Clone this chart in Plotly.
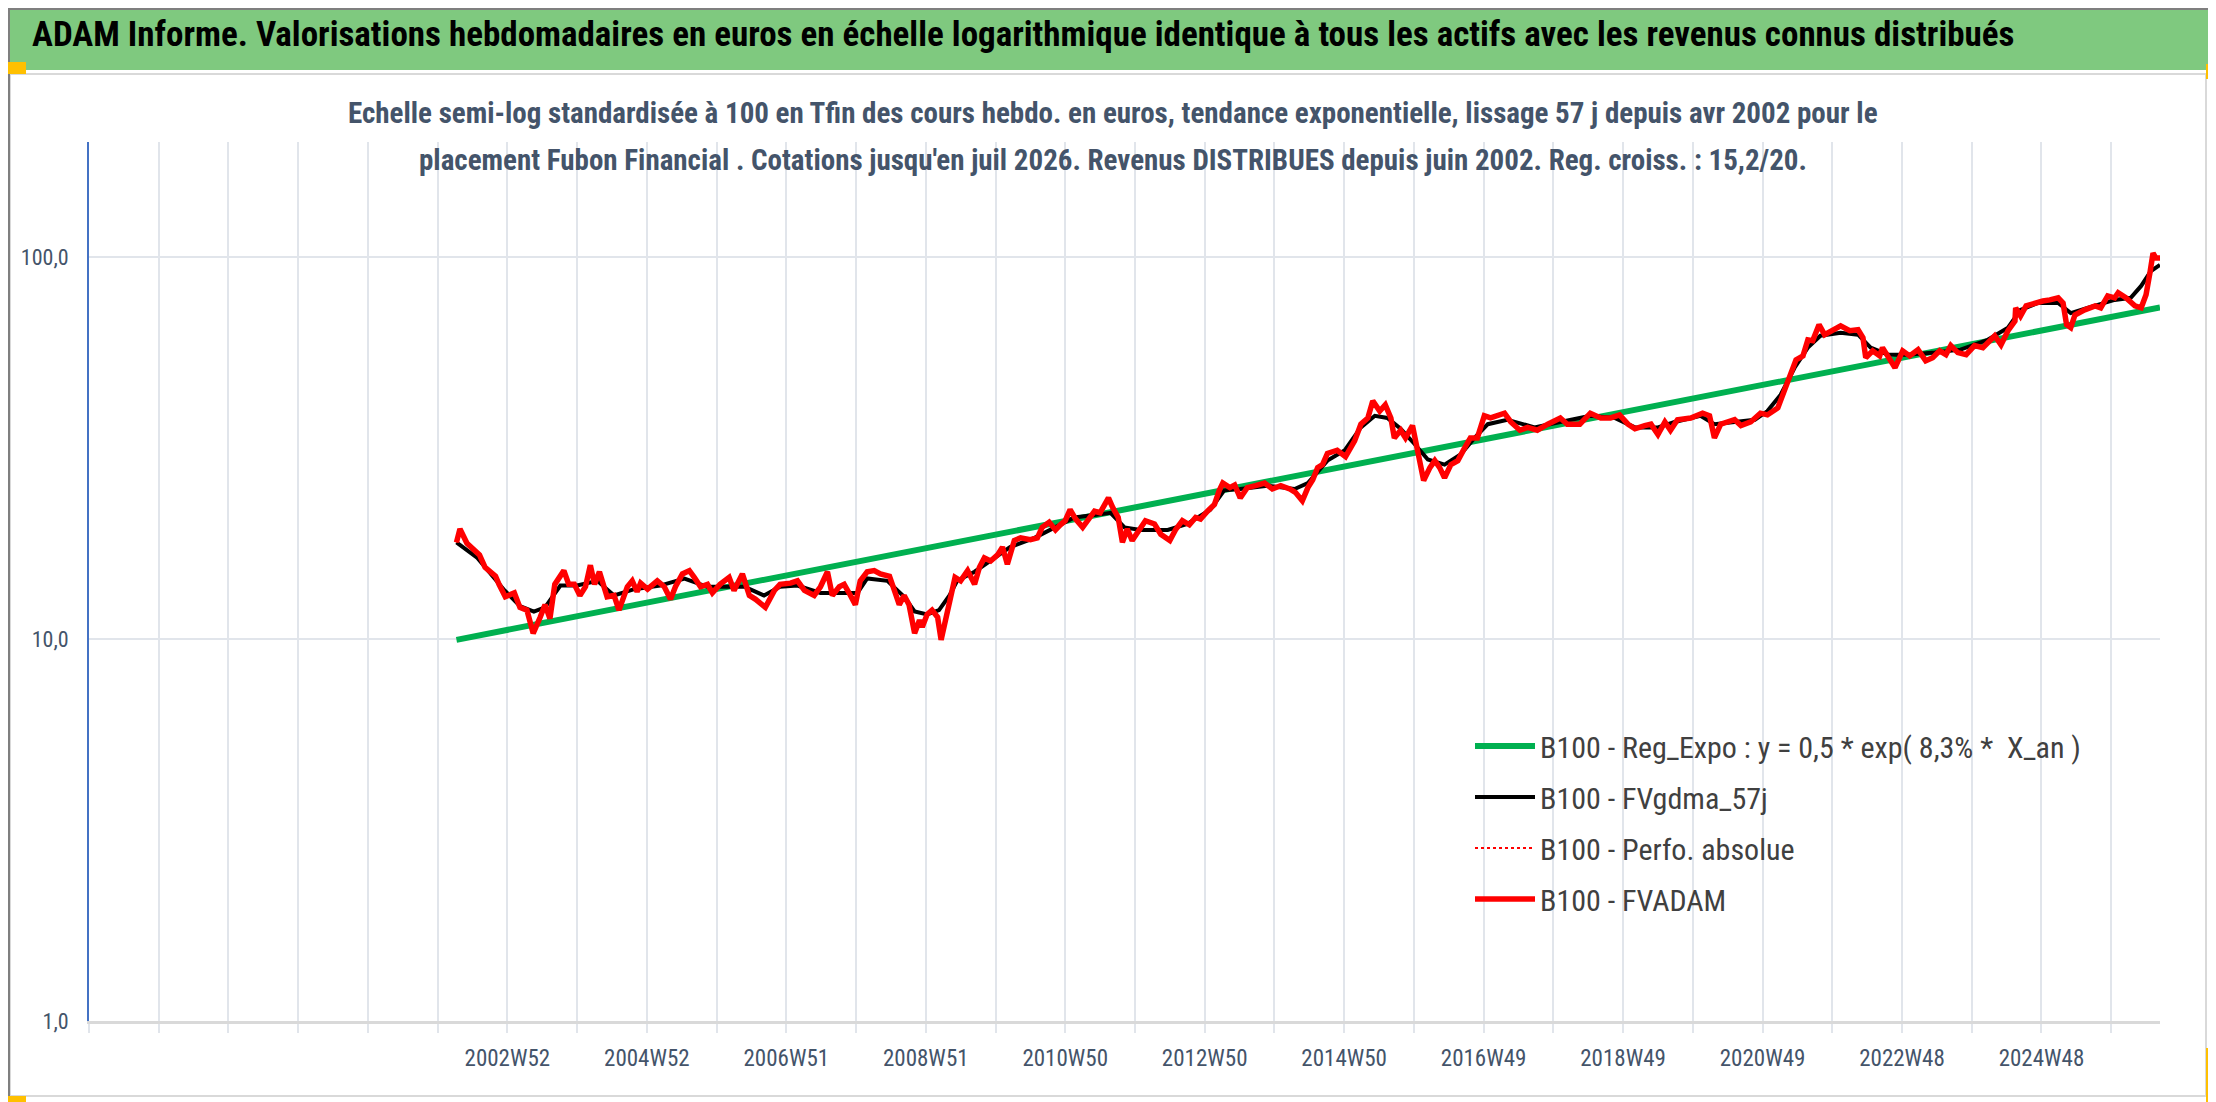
import plotly.graph_objects as go

# axe x : annees "hebdo" (1 unite = 52 semaines, 2003.0 = 2002W52)
adam_x = [2002.27, 2002.32, 2002.42, 2002.60, 2002.68, 2002.83, 2002.88, 2002.97, 2003.10, 2003.18,
          2003.28, 2003.37, 2003.47, 2003.54, 2003.61, 2003.68, 2003.81, 2003.88, 2003.96, 2004.04,
          2004.12, 2004.19, 2004.25, 2004.32, 2004.43, 2004.53, 2004.60, 2004.72, 2004.79, 2004.86,
          2004.91, 2005.01, 2005.15, 2005.25, 2005.34, 2005.41, 2005.51, 2005.61, 2005.68, 2005.77,
          2005.87, 2005.94, 2006.05, 2006.18, 2006.25, 2006.37, 2006.47, 2006.56, 2006.70, 2006.83,
          2006.91, 2007.06, 2007.16, 2007.26, 2007.40, 2007.49, 2007.59, 2007.66, 2007.76, 2007.83,
          2007.92, 2007.99, 2008.06, 2008.16, 2008.26, 2008.35, 2008.48, 2008.55, 2008.62, 2008.69,
          2008.76, 2008.84, 2008.91, 2008.95, 2009.02, 2009.09, 2009.17, 2009.22, 2009.28, 2009.35,
          2009.42, 2009.50, 2009.60, 2009.70, 2009.77, 2009.84, 2009.93, 2010.03, 2010.10, 2010.17,
          2010.27, 2010.36, 2010.50, 2010.60, 2010.67, 2010.77, 2010.86, 2010.93, 2011.00, 2011.07,
          2011.15, 2011.25, 2011.35, 2011.42, 2011.50, 2011.62, 2011.68, 2011.76, 2011.82, 2011.89,
          2011.96, 2012.06, 2012.15, 2012.28, 2012.37, 2012.50, 2012.58, 2012.68, 2012.78, 2012.87,
          2012.94, 2013.04, 2013.14, 2013.21, 2013.26, 2013.36, 2013.43, 2013.51, 2013.61, 2013.73,
          2013.86, 2013.97, 2014.09, 2014.22, 2014.30, 2014.40, 2014.48, 2014.55, 2014.62, 2014.69,
          2014.76, 2014.90, 2015.02, 2015.15, 2015.24, 2015.34, 2015.41, 2015.51, 2015.59, 2015.67,
          2015.72, 2015.81, 2015.88, 2015.98, 2016.05, 2016.14, 2016.23, 2016.30, 2016.37, 2016.44,
          2016.53, 2016.63, 2016.73, 2016.81, 2016.91, 2017.01, 2017.10, 2017.20, 2017.30, 2017.39,
          2017.52, 2017.63, 2017.77, 2017.92, 2018.10, 2018.20, 2018.38, 2018.53, 2018.68, 2018.82,
          2018.95, 2019.07, 2019.17, 2019.31, 2019.40, 2019.50, 2019.60, 2019.68, 2019.78, 2019.97,
          2020.14, 2020.24, 2020.31, 2020.40, 2020.60, 2020.69, 2020.83, 2020.97, 2021.07, 2021.22,
          2021.32, 2021.40, 2021.48, 2021.58, 2021.65, 2021.72, 2021.81, 2021.89, 2022.01, 2022.12,
          2022.25, 2022.37, 2022.44, 2022.48, 2022.58, 2022.68, 2022.72, 2022.80, 2022.90, 2023.01,
          2023.11, 2023.23, 2023.34, 2023.44, 2023.54, 2023.63, 2023.70, 2023.80, 2023.92, 2024.04,
          2024.16, 2024.33, 2024.42, 2024.52, 2024.62, 2024.63, 2024.70, 2024.78, 2024.91, 2025.02,
          2025.12, 2025.24, 2025.31, 2025.36, 2025.42, 2025.48, 2025.62, 2025.77, 2025.85, 2025.95,
          2026.05, 2026.10, 2026.21, 2026.34, 2026.43, 2026.50, 2026.56, 2026.60, 2026.64, 2026.70]
adam_y = [17.9, 19.4, 17.8, 16.6, 15.4, 14.6, 13.9, 12.9, 13.2, 12.1,
          11.9, 10.35, 11.4, 12.3, 11.3, 13.9, 15.1, 13.9, 13.9, 13.0,
          13.7, 15.6, 13.9, 15.0, 12.9, 13.0, 11.9, 13.7, 14.2, 13.3,
          14.0, 13.5, 14.2, 13.7, 12.7, 13.7, 14.8, 15.1, 14.5, 13.7,
          13.9, 13.2, 13.9, 14.5, 13.4, 14.8, 13.0, 12.7, 12.1, 13.4,
          13.9, 14.0, 14.2, 13.4, 13.0, 13.7, 15.0, 13.0, 13.7, 13.9,
          13.0, 12.3, 14.2, 15.0, 15.1, 14.8, 14.6, 13.4, 12.3, 13.0,
          12.3, 10.35, 11.2, 10.75, 11.6, 11.9, 11.4, 9.95, 11.2, 13.0,
          14.5, 14.2, 15.1, 13.9, 15.4, 16.3, 16.0, 16.6, 17.4, 15.7,
          18.1, 18.4, 18.2, 18.4, 19.6, 20.2, 19.3, 19.9, 20.4, 21.8,
          20.6, 19.6, 20.8, 21.6, 21.4, 23.4, 22.1, 20.8, 17.9, 19.4,
          18.1, 19.4, 20.4, 20.0, 18.8, 18.1, 19.3, 20.4, 19.9, 20.8,
          20.6, 21.6, 22.5, 24.5, 25.6, 24.9, 25.3, 23.4, 24.9, 25.2,
          25.6, 24.7, 25.2, 24.7, 24.2, 23.0, 24.9, 26.1, 28.1, 28.6,
          30.6, 31.2, 30.0, 33.0, 36.5, 37.9, 42.0, 39.5, 41.0, 37.9,
          33.6, 35.2, 33.6, 36.2, 31.7, 26.0, 28.1, 29.3, 28.1, 26.4,
          28.6, 29.3, 31.7, 33.6, 33.6, 38.4, 37.9, 38.6, 39.0, 37.0,
          35.2, 35.8, 35.2, 36.5, 37.9, 36.5, 36.5, 39.0, 37.9, 37.9,
          38.6, 36.5, 35.5, 36.2, 36.5, 34.3, 37.0, 35.2, 37.5, 37.9,
          39.0, 38.4, 33.6, 36.5, 37.5, 36.2, 37.0, 39.0, 38.6, 40.3,
          44.7, 49.3, 53.8, 55.1, 60.7, 60.4, 66.5, 62.6, 64.1, 66.0,
          64.1, 64.5, 61.5, 54.5, 56.8, 55.1, 57.9, 54.5, 51.3, 56.8,
          55.1, 57.2, 53.5, 54.5, 56.8, 55.5, 58.6, 56.2, 55.5, 58.6,
          57.9, 62.2, 58.9, 64.1, 68.0, 73.6, 70.1, 74.5, 75.8, 76.7,
          77.2, 78.2, 75.8, 66.5, 65.3, 70.5, 72.7, 74.5, 73.6, 79.1,
          78.2, 80.6, 78.2, 74.5, 73.6, 79.6, 91.9, 102.4, 99.4, 99.4]

gdma_x = [2002.27, 2002.57, 2002.96, 2003.18, 2003.38, 2003.54, 2003.76, 2004.00, 2004.29, 2004.53,
          2004.82, 2005.19, 2005.54, 2005.87, 2006.40, 2006.68, 2006.91, 2007.16, 2007.49, 2008.02,
          2008.16, 2008.45, 2008.69, 2008.84, 2009.02, 2009.19, 2009.34, 2009.45, 2009.70, 2009.98,
          2010.21, 2010.56, 2010.84, 2011.13, 2011.42, 2011.65, 2011.85, 2012.08, 2012.47, 2012.75,
          2013.08, 2013.28, 2013.51, 2013.90, 2014.29, 2014.48, 2014.76, 2015.01, 2015.24, 2015.44,
          2015.62, 2015.81, 2016.01, 2016.20, 2016.44, 2016.67, 2016.87, 2017.06, 2017.34, 2017.73,
          2018.10, 2018.53, 2018.88, 2019.17, 2019.50, 2019.74, 2020.11, 2020.31, 2020.60, 2020.89,
          2021.07, 2021.26, 2021.46, 2021.65, 2021.83, 2022.12, 2022.37, 2022.55, 2022.80, 2023.08,
          2023.47, 2023.84, 2024.23, 2024.52, 2024.70, 2024.95, 2025.24, 2025.42, 2025.66, 2026.05,
          2026.28, 2026.43, 2026.57, 2026.70]
gdma_y = [17.9, 16.3, 13.4, 12.2, 11.8, 12.1, 13.8, 13.8, 14.2, 13.0,
          13.5, 13.8, 14.4, 13.7, 13.7, 13.0, 13.7, 13.8, 13.2, 13.2,
          14.4, 14.2, 12.9, 11.8, 11.6, 11.9, 13.0, 14.2, 15.0, 16.3,
          17.4, 18.4, 19.6, 20.8, 21.1, 21.4, 19.6, 19.3, 19.3, 20.0,
          21.8, 24.5, 24.7, 25.2, 24.7, 25.6, 29.3, 31.2, 35.8, 38.4,
          37.9, 35.5, 32.4, 29.5, 28.6, 30.4, 33.6, 36.5, 37.5, 35.8,
          37.0, 38.4, 37.9, 35.8, 35.8, 37.0, 38.4, 36.5, 37.0, 37.5,
          39.5, 43.6, 51.3, 57.9, 62.2, 63.3, 62.6, 57.9, 55.5, 55.5,
          56.2, 57.2, 60.7, 65.3, 72.7, 75.8, 75.8, 71.3, 73.6, 77.2,
          78.2, 84.0, 91.9, 95.3]

reg_x = [2002.27, 2026.70]
reg_y = [9.95, 73.8]

grid_years = list(range(1997, 2027))
label_years = [2003, 2005, 2007, 2009, 2011, 2013, 2015, 2017, 2019, 2021, 2023, 2025]
label_texts = ["2002W52", "2004W52", "2006W51", "2008W51", "2010W50", "2012W50",
               "2014W50", "2016W49", "2018W49", "2020W49", "2022W48", "2024W48"]
y_ticks = [1, 10, 100]
y_labels = ["1,0", "10,0", "100,0"]

FONT = "Liberation Sans Narrow, Arial Narrow, Roboto Condensed, Liberation Sans, sans-serif"
W, H = 2216, 1102
L, R, T, B = 81, 64, 134, 89


def px_x(px):
    return (px - L) / (W - L - R)


def px_y(py):
    return (H - B - py) / (H - B - T)


tick_text = [label_texts[label_years.index(v)] if v in label_years else "" for v in grid_years]

fig = go.Figure()
fig.add_trace(go.Scatter(x=reg_x, y=reg_y, mode="lines", legendgroup="a",
                         name="B100 - Reg_Expo : y = 0,5 * exp( 8,3% *  X_an )",
                         line=dict(color="#00B050", width=6)))
fig.add_trace(go.Scatter(x=gdma_x, y=gdma_y, mode="lines", legendgroup="b",
                         name="B100 - FVgdma_57j", line=dict(color="black", width=4)))
fig.add_trace(go.Scatter(x=adam_x, y=adam_y, mode="lines", legendgroup="c",
                         name="B100 - Perfo. absolue",
                         line=dict(color="#FF0000", width=2, dash="dot")))
fig.add_trace(go.Scatter(x=adam_x, y=adam_y, mode="lines", legendgroup="d",
                         name="B100 - FVADAM", line=dict(color="#FF0000", width=5.5)))

shapes = [
    dict(type="rect", xref="paper", yref="paper", x0=px_x(0), x1=px_x(W), y0=px_y(62), y1=px_y(0),
         fillcolor="#7FC97F", line=dict(width=0), layer="below"),
    dict(type="rect", xref="paper", yref="paper", x0=px_x(2), x1=px_x(2198), y0=px_y(1088), y1=px_y(66),
         line=dict(color="#D9D9D9", width=2), layer="below"),
    dict(type="rect", xref="paper", yref="paper", x0=px_x(1), x1=px_x(W - 1), y0=px_y(H - 1), y1=px_y(1),
         line=dict(color="#7F7F7F", width=2)),
]
for x0, y0, x1, y1 in [(0, 54, 18, 66), (2198, 56, W, 71), (0, 1088, 18, H), (2198, 1040, W, H)]:
    shapes.append(dict(type="rect", xref="paper", yref="paper", x0=px_x(x0), x1=px_x(x1),
                       y0=px_y(y1), y1=px_y(y0), fillcolor="#FFC000", line=dict(width=0)))

annotations = [
    dict(text="<b>ADAM Informe. Valorisations hebdomadaires en euros en échelle logarithmique identique à tous les actifs avec les revenus connus distribués</b>",
         xref="paper", yref="paper", x=px_x(22), y=px_y(27), xanchor="left", yanchor="middle",
         showarrow=False, font=dict(family=FONT, size=35, color="black")),
    dict(text="<b>Echelle semi-log standardisée à 100 en Tfin des cours hebdo. en euros, tendance exponentielle, lissage 57 j depuis avr 2002 pour le</b>",
         xref="paper", yref="paper", x=px_x(1105), y=px_y(105), xanchor="center", yanchor="middle",
         showarrow=False, font=dict(family=FONT, size=29, color="#44546A")),
    dict(text="<b>placement Fubon Financial . Cotations jusqu'en juil 2026. Revenus DISTRIBUES depuis juin 2002. Reg. croiss. : 15,2/20.</b>",
         xref="paper", yref="paper", x=px_x(1105), y=px_y(152), xanchor="center", yanchor="middle",
         showarrow=False, font=dict(family=FONT, size=29, color="#44546A")),
]

fig.update_layout(
    width=W, height=H,
    margin=dict(l=L, r=R, t=T, b=B),
    paper_bgcolor="white", plot_bgcolor="white",
    font=dict(family=FONT, color="#44546A"),
    shapes=shapes, annotations=annotations,
    legend=dict(x=px_x(1462), y=px_y(712), xanchor="left", yanchor="top",
                font=dict(family=FONT, size=30, color="#404040"),
                bgcolor="rgba(0,0,0,0)", traceorder="grouped", tracegroupgap=9,
                itemwidth=60),
    xaxis=dict(range=[1997, 2026.7], tickvals=grid_years, ticktext=tick_text,
               showgrid=True, gridcolor="#E1E5EB", gridwidth=2,
               ticks="outside", ticklen=9, tickwidth=2, tickcolor="#E1E5EB",
               showline=True, linecolor="#D9D9D9", linewidth=3, zeroline=False,
               tickfont=dict(size=23, color="#44546A"), ticklabelstandoff=5),
    yaxis=dict(type="log", range=[0, 2.301], tickvals=y_ticks, ticktext=y_labels,
               showgrid=True, gridcolor="#E1E5EB", gridwidth=2,
               showline=True, linecolor="#4472C4", linewidth=2, zeroline=False,
               ticks="", tickfont=dict(size=22, color="#44546A"), ticklabelstandoff=14),
)

fig.write_html("out.html")
